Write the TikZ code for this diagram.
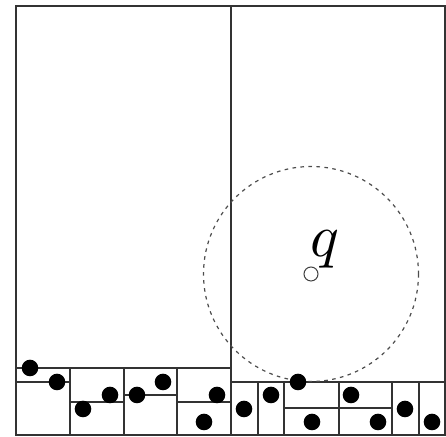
\documentclass[tikz,border=0pt]{standalone}
\usepackage{tikz}

\begin{document}
\begin{tikzpicture}[
    x=0.5pt, y=-0.5pt,
    cell/.style={draw=black!80, line width=0.7pt},
    pnt/.style={circle, fill=black, inner sep=0pt, minimum size=8.3pt},
    qpnt/.style={circle, draw=black!75, fill=white, line width=0.5pt,
                 inner sep=0pt, minimum size=7pt},
    qrange/.style={draw=black!70, line width=0.6pt,
                  dash pattern=on 1.8pt off 2.2pt}
  ]
  \useasboundingbox (0,0) rectangle (446,437);

  %% outer box and first split
  \draw[cell] (16,6) rectangle (445,435);
  \draw[cell] (231,6) -- (231,435);

  %% left half cells
  \draw[cell] (16,368) -- (231,368);
  \draw[cell] (16,382) -- (70,382);
  \foreach \x in {70,124,177}
    \draw[cell] (\x,368) -- (\x,435);
  \draw[cell] (70,402) -- (124,402);
  \draw[cell] (124,395) -- (177,395);
  \draw[cell] (177,402) -- (231,402);

  %% right half cells
  \draw[cell] (231,382) -- (445,382);
  \foreach \x in {258,284,339,392,419}
    \draw[cell] (\x,382) -- (\x,435);
  \draw[cell] (284,408) -- (392,408);

  %% query range
  \node[qpnt] (q) at (311,274) {};
  \draw[qrange] (q.center) circle[radius=107.5];
  \node[scale=3] (qlbl) at (325,249) {$q$};

  %% data points
  \foreach \x/\y [count=\i] in {30/368, 57/382, 83/409, 110/395, 137/395,
      163/382, 217/395, 204/422, 244/409, 271/395, 298/382, 312/422,
      351/395, 378/422, 405/409, 432/422}
    \node[pnt] (p\i) at (\x,\y) {};

\end{tikzpicture}
\end{document}
